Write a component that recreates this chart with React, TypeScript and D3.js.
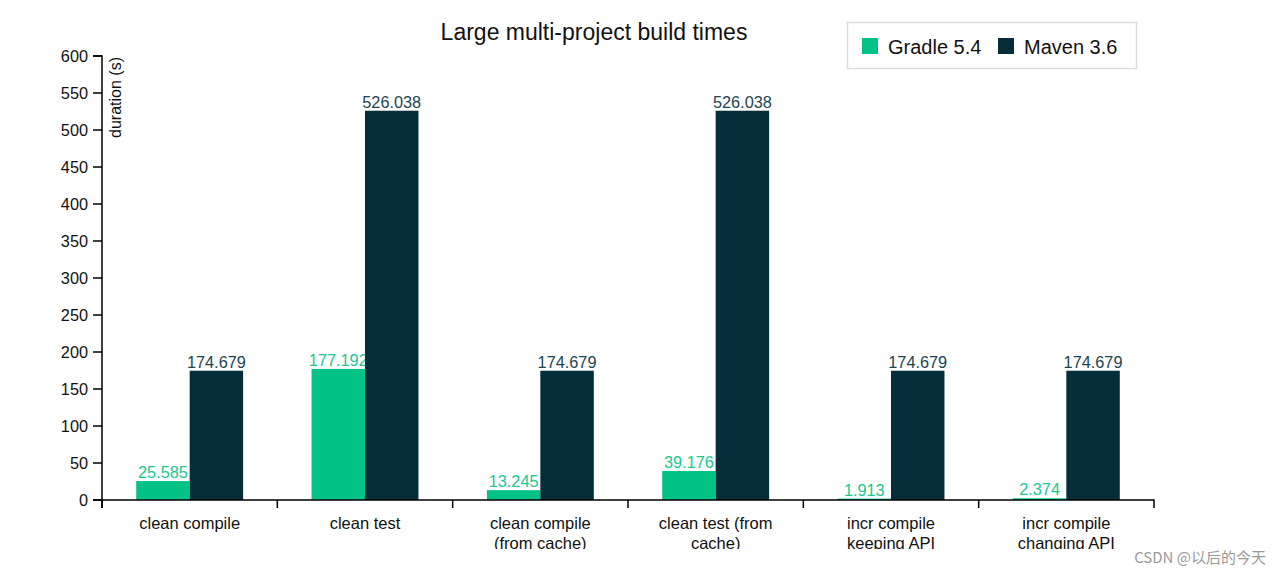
import React from "react";
import * as d3 from "d3";

const categories = [
  "clean compile",
  "clean test",
  "clean compile (from cache)",
  "clean test (from cache)",
  "incr compile keeping API",
  "incr compile changing API",
];
const categoryLines = [
  ["clean compile"],
  ["clean test"],
  ["clean compile", "(from cache)"],
  ["clean test (from", "cache)"],
  ["incr compile", "keeping API"],
  ["incr compile", "changing API"],
];
const seriesNames = ["Gradle 5.4", "Maven 3.6"];
const gradleValues = [25.585, 177.192, 13.245, 39.176, 1.913, 2.374];
const mavenValues = [174.679, 526.038, 174.679, 526.038, 174.679, 174.679];
const yTicks = [0, 50, 100, 150, 200, 250, 300, 350, 400, 450, 500, 550, 600];
const colors = ["#02c385", "#062d3a"];
const labelColors = ["#19c98e", "#1c4552"];

const W = 1280;
const H = 577;
const FONT = "'Liberation Sans', Arial, Helvetica, sans-serif";

export default function App() {
  const x0 = d3.scaleBand<string>().domain(categories).range([102, 1154]).padding(0);
  const x1 = d3
    .scaleBand<string>()
    .domain(seriesNames)
    .range([0, x0.bandwidth()])
    .paddingInner(0)
    .paddingOuter(0.64);
  const y = d3.scaleLinear().domain([0, 600]).range([500, 56]);
  const values = [gradleValues, mavenValues];

  return (
    <svg
      width={W}
      height={H}
      style={{ position: "absolute", left: 0, top: 0, background: "#fff", fontFamily: FONT }}
    >
      <defs>
        <clipPath id="clipBottom">
          <rect x={0} y={0} width={W} height={549} />
        </clipPath>
      </defs>
      <text x={594} y={40} textAnchor="middle" fontSize={23} fill="#111">
        Large multi-project build times
      </text>

      {/* bars */}
      {categories.map((c, i) => (
        <g key={c} transform={`translate(${x0(c)},0)`}>
          {seriesNames.map((s, k) => {
            const v = values[k][i];
            const bx = x1(s)!;
            return (
              <g key={s}>
                <rect
                  x={bx}
                  y={y(v)}
                  width={x1.bandwidth()}
                  height={y(0) - y(v)}
                  fill={colors[k]}
                />
                <text
                  x={bx + x1.bandwidth() / 2}
                  y={y(v) - 3}
                  textAnchor="middle"
                  fontSize={16.3}
                  fill={labelColors[k]}
                >
                  {v.toFixed(3)}
                </text>
              </g>
            );
          })}
        </g>
      ))}

      {/* y axis */}
      <g>
        <path d={`M93,${y(600)}H102V${y(0)}H93`} fill="none" stroke="#000" strokeWidth={1.5} />
        {yTicks.map((t) => (
          <g key={t} transform={`translate(0,${y(t)})`}>
            <line x1={93} x2={102} stroke="#000" strokeWidth={1.5} />
            <text x={88} dy="0.35em" textAnchor="end" fontSize={16.3} fill="#111">
              {t}
            </text>
          </g>
        ))}
        <text
          transform={`translate(121,57) rotate(-90)`}
          textAnchor="end"
          fontSize={16}
          fill="#111"
        >
          duration (s)
        </text>
      </g>

      {/* x axis */}
      <g clipPath="url(#clipBottom)">
        <path d={`M102,508V500H1154V508`} fill="none" stroke="#000" strokeWidth={1.5} />
        {categories.map((c) => (
          <line key={c} x1={x0(c)!} x2={x0(c)!} y1={500} y2={508} stroke="#000" strokeWidth={1.5} />
        ))}
        {categories.map((c, i) => (
          <text
            key={c}
            x={x0(c)! + x0.bandwidth() / 2}
            y={529}
            textAnchor="middle"
            fontSize={16.5}
            fill="#111"
          >
            {categoryLines[i].map((ln, j) => (
              <tspan key={j} x={x0(c)! + x0.bandwidth() / 2} dy={j === 0 ? 0 : 19.5}>
                {ln}
              </tspan>
            ))}
          </text>
        ))}
      </g>

      {/* legend */}
      <g>
        <rect x={847.5} y={22.5} width={289} height={46} fill="#fff" stroke="#dcdcdc" strokeWidth={1.5} />
        {seriesNames.map((s, k) => (
          <g key={s} transform={`translate(${k === 0 ? 862 : 998},38)`}>
            <rect width={16} height={16} fill={colors[k]} />
            <text x={26} y={16} fontSize={20} fill="#111">
              {s}
            </text>
          </g>
        ))}
      </g>

      <text x={1266} y={563} textAnchor="end" fontSize={15} fill="#9a9a9a" fontFamily="'Noto Sans CJK SC', sans-serif">
        CSDN @以后的今天
      </text>
    </svg>
  );
}
